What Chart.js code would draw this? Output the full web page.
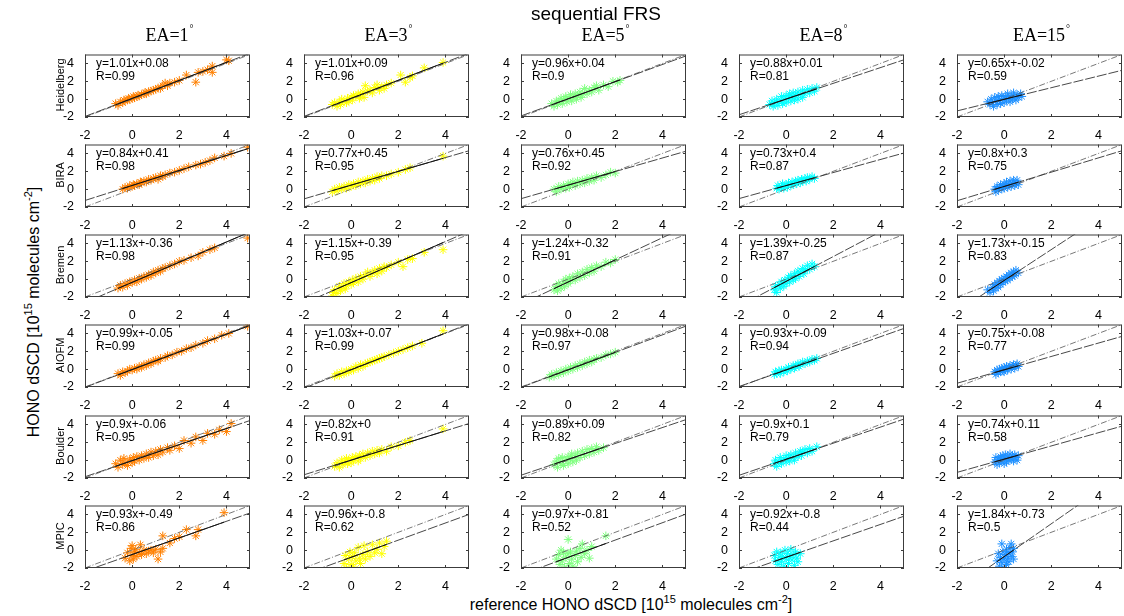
<!DOCTYPE html>
<html lang="en">
<head>
<meta charset="UTF-8">
<title>sequential FRS</title>
<script src="https://cdn.jsdelivr.net/npm/chart.js"></script>
<style>
  body { margin: 0; background: #fff; }
  #fig { position: relative; width: 1124px; height: 616px; overflow: hidden;
         font-family: "Liberation Sans", Arial, sans-serif; color: #000; }
  #fig canvas { position: absolute; }
  .lbl { position: absolute; white-space: nowrap; line-height: 1; }
  .ea { font-family: "Liberation Serif", "Times New Roman", serif; font-size: 18px; transform: translateX(-50%); }
  .ea sup { font-size: 10px; vertical-align: 9px; margin-left: 1px; }
  .big sup { font-size: 11px; vertical-align: 7px; }
  .fit { font-size: 12px; }
  .row { font-size: 11px; transform: translate(-50%, -50%) rotate(-90deg); }
</style>
</head>
<body>
<div id="fig"></div>
<script>
// instruments (rows) and elevation angles (columns)
const instruments = ['Heidelberg', 'BIRA', 'Bremen', 'AIOFM', 'Boulder', 'MPIC'];
const elevAngles = [1, 3, 5, 8, 15];
const axisTicks = [-2, 0, 2, 4];

// regression results per instrument, one entry per elevation angle
const slopes = [
  [1.01, 1.01, 0.96, 0.88, 0.65],
  [0.84, 0.77, 0.76, 0.73, 0.8],
  [1.13, 1.15, 1.24, 1.39, 1.73],
  [0.99, 1.03, 0.98, 0.93, 0.75],
  [0.9, 0.82, 0.89, 0.9, 0.74],
  [0.93, 0.96, 0.97, 0.92, 1.84]
];
const offsets = [
  [0.08, 0.09, 0.04, 0.01, -0.02],
  [0.41, 0.45, 0.45, 0.4, 0.3],
  [-0.36, -0.39, -0.32, -0.25, -0.15],
  [-0.05, -0.07, -0.08, -0.09, -0.08],
  [-0.06, 0, 0.09, 0.1, 0.11],
  [-0.49, -0.8, -0.81, -0.8, -0.73]
];
const rValues = [
  [0.99, 0.96, 0.9, 0.81, 0.59],
  [0.98, 0.95, 0.92, 0.87, 0.75],
  [0.98, 0.95, 0.91, 0.87, 0.83],
  [0.99, 0.99, 0.97, 0.94, 0.77],
  [0.95, 0.91, 0.82, 0.79, 0.58],
  [0.86, 0.62, 0.52, 0.44, 0.5]
];

// [reference, instrument] dSCD pairs, one list per elevation angle
const ptsHeidelberg = [
  [[-0.7,-0.5],[-0.6,-0.7],[-0.5,-0.3],[-0.4,-0.4],[-0.35,-0.1],[-0.3,-0.2],[-0.2,-0.1],[-0.15,0.1],[-0.1,-0.05],[0,0.1],[0.05,0.3],[0.1,0.15],[0.2,0.3],[0.25,0.45],[0.3,0.35],[0.4,0.5],[0.5,0.6],[0.55,0.75],[0.6,0.6],[0.7,0.85],[0.8,0.9],[0.9,1.0],[1.0,1.1],[1.1,1.25],[1.2,1.2],[1.3,1.5],[1.4,1.8],[1.5,1.5],[1.6,1.8],[1.8,1.9],[2.0,2.1],[2.3,2.7],[2.7,1.9],[2.8,3.0],[3.0,3.1],[3.2,3.3],[3.4,3.7],[3.4,3.0],[4.0,4.4],[4.1,4.3]],
  [[-0.8,-0.6],[-0.7,-0.4],[-0.6,-0.8],[-0.5,-0.3],[-0.45,-0.6],[-0.4,0],[-0.3,-0.3],[-0.2,-0.4],[-0.15,0.1],[-0.1,-0.2],[0,0.2],[0.05,-0.1],[0.1,0.4],[0.2,0.3],[0.3,0.6],[0.35,0.1],[0.4,0.5],[0.5,0.8],[0.55,0.2],[0.6,1.5],[0.7,0.9],[0.8,1.0],[0.9,0.7],[1.0,1.3],[1.1,1.6],[1.2,1.0],[1.3,1.4],[1.4,1.2],[1.5,1.6],[1.7,1.8],[2.1,2.7],[2.3,1.9],[2.5,2.4],[2.6,2.6],[3.1,3.5],[3.9,4.1]],
  [[-0.7,-0.5],[-0.6,-0.8],[-0.5,-0.2],[-0.45,-0.6],[-0.4,-0.3],[-0.3,0.1],[-0.25,-0.5],[-0.2,-0.1],[-0.1,0.3],[-0.05,-0.3],[0,0.1],[0.1,0.5],[0.15,-0.2],[0.2,0.2],[0.3,0.6],[0.35,0],[0.4,0.4],[0.5,0.8],[0.55,0.2],[0.6,0.5],[0.7,1.2],[0.8,0.6],[0.9,1.0],[1.0,0.8],[1.1,1.3],[1.2,1.5],[1.3,1.0],[1.5,1.6],[1.7,1.4],[1.9,2.0],[2.1,1.9],[2.2,2.1]],
  [[-0.7,-0.6],[-0.6,-0.2],[-0.55,-0.8],[-0.5,-0.4],[-0.4,0],[-0.35,-0.7],[-0.3,-0.3],[-0.2,0.3],[-0.15,-0.5],[-0.1,0],[0,0.4],[0,-0.4],[0.1,0.1],[0.15,0.6],[0.2,-0.2],[0.25,0.3],[0.3,0.7],[0.35,-0.1],[0.4,0.4],[0.5,0.8],[0.5,0],[0.6,0.5],[0.7,1.0],[0.7,0.2],[0.8,0.6],[0.9,1.1],[1.0,0.7],[1.1,1.2],[1.2,0.9],[1.3,1.3]],
  [[-0.7,-0.3],[-0.6,-0.6],[-0.55,0],[-0.5,-0.4],[-0.45,-0.8],[-0.4,0.2],[-0.35,-0.2],[-0.3,-0.6],[-0.25,0.3],[-0.2,-0.1],[-0.15,-0.5],[-0.1,0.4],[-0.05,0],[0,-0.4],[0.05,0.3],[0.1,-0.1],[0.15,0.6],[0.2,0.1],[0.25,-0.3],[0.3,0.4],[0.35,0],[0.4,0.7],[0.45,0.2],[0.5,-0.1],[0.55,0.5],[0.6,0.2],[0.7,0.6],[0.75,0.3]]
];
const ptsBira = [
  [[-0.4,0],[-0.3,0.2],[-0.2,0.1],[-0.1,0.4],[0,0.3],[0.05,0.5],[0.1,0.4],[0.2,0.6],[0.3,0.5],[0.35,0.8],[0.4,0.7],[0.5,0.9],[0.6,0.8],[0.7,1.1],[0.8,1.0],[0.9,1.2],[1.0,1.3],[1.1,1.1],[1.2,1.5],[1.3,1.4],[1.4,1.6],[1.6,1.8],[1.8,1.9],[2.0,2.1],[2.2,2.3],[2.4,2.5],[2.7,2.7],[2.9,2.8],[3.1,3.0],[3.3,3.2],[3.5,3.5],[3.9,3.7],[4.2,4.0],[4.9,4.7]],
  [[-0.8,-0.3],[-0.7,0],[-0.6,-0.2],[-0.5,0.2],[-0.4,0],[-0.3,0.3],[-0.2,0.1],[-0.1,0.5],[0,0.3],[0.1,0.6],[0.2,0.4],[0.3,0.8],[0.4,0.6],[0.5,0.9],[0.6,0.7],[0.7,1.1],[0.8,0.9],[0.9,1.2],[1.0,1.0],[1.1,1.4],[1.2,1.2],[1.3,1.5],[1.5,1.5],[1.7,1.7],[2.0,1.9],[2.3,2.2],[2.5,2.4],[3.9,3.7]],
  [[-0.6,0],[-0.5,-0.3],[-0.4,0.3],[-0.3,0],[-0.2,0.4],[-0.1,0.1],[0,0.6],[0.05,0.2],[0.1,0.5],[0.2,0.8],[0.3,0.4],[0.4,0.9],[0.5,0.6],[0.6,1.0],[0.7,0.7],[0.8,1.2],[0.9,0.9],[1.0,1.3],[1.1,1.0],[1.2,1.5],[1.4,1.3],[1.6,1.6],[1.8,1.9],[2.0,1.8]],
  [[-0.4,0.1],[-0.35,0.4],[-0.3,0],[-0.2,0.3],[-0.15,0.6],[-0.1,0.1],[0,0.5],[0.05,0.2],[0.1,0.7],[0.2,0.4],[0.25,0.8],[0.3,0.5],[0.4,0.9],[0.45,0.6],[0.5,1.0],[0.6,0.7],[0.65,1.1],[0.7,0.9],[0.8,1.2],[0.85,0.9],[0.9,1.3],[1.0,1.1],[1.1,1.4],[1.2,1.2]],
  [[-0.4,0],[-0.35,-0.3],[-0.3,0.3],[-0.25,-0.1],[-0.2,0.2],[-0.15,0.5],[-0.1,0],[-0.05,0.3],[0,0.6],[0,0.1],[0.05,0.4],[0.1,0.8],[0.15,0.2],[0.2,0.5],[0.25,0.9],[0.3,0.3],[0.35,0.6],[0.4,1.0],[0.45,0.4],[0.5,0.7],[0.55,1.0],[0.6,0.5]]
];
const ptsBremen = [
  [[-0.6,-1.0],[-0.5,-0.7],[-0.4,-0.9],[-0.3,-0.5],[-0.2,-0.7],[-0.1,-0.3],[0,-0.4],[0.1,-0.1],[0.2,-0.3],[0.3,0.1],[0.4,0],[0.5,0.3],[0.6,0.2],[0.7,0.5],[0.8,0.4],[0.9,0.8],[1.0,0.7],[1.1,1.0],[1.2,0.9],[1.3,1.2],[1.4,1.3],[1.6,1.5],[1.8,1.7],[2.0,2.0],[2.2,2.1],[2.5,2.4],[2.8,2.6],[3.0,3.0],[3.3,3.3],[3.5,3.5],[4.9,4.6]],
  [[-0.8,-1.9],[-0.75,-1.5],[-0.7,-1.2],[-0.6,-1.6],[-0.5,-0.8],[-0.45,-1.3],[-0.4,-1.0],[-0.3,-0.5],[-0.25,-1.1],[-0.2,-0.7],[-0.1,-0.3],[0,-0.6],[0.05,-0.1],[0.1,-0.4],[0.2,0.1],[0.3,-0.3],[0.4,0.3],[0.5,0],[0.6,0.5],[0.7,0.8],[0.8,0.3],[0.9,0.7],[1.0,1.0],[1.1,0.6],[1.2,1.2],[1.3,0.9],[1.4,1.4],[1.5,1.3],[1.7,1.6],[2.0,1.9],[2.2,1.4],[2.4,2.2],[2.6,2.3],[3.1,3.0],[3.9,3.3]],
  [[-0.6,-1.2],[-0.5,-0.8],[-0.45,-1.3],[-0.4,-0.5],[-0.3,-1.0],[-0.2,-0.3],[-0.15,-0.8],[-0.1,0],[0,-0.5],[0.05,0.1],[0.1,-0.2],[0.2,0.3],[0.3,-0.1],[0.4,0.6],[0.5,0.2],[0.6,0.8],[0.7,0.4],[0.8,1.1],[0.9,0.7],[1.0,1.3],[1.1,0.9],[1.2,1.5],[1.4,1.4],[1.6,1.9],[1.8,1.8],[2.0,2.2]],
  [[-0.5,-1.2],[-0.45,-0.8],[-0.4,-1.5],[-0.3,-0.6],[-0.25,-1.0],[-0.2,-0.3],[-0.1,-0.8],[-0.05,-0.1],[0,-0.5],[0.1,0.2],[0.15,-0.3],[0.2,0.4],[0.3,-0.1],[0.35,0.6],[0.4,0.1],[0.5,0.9],[0.55,0.3],[0.6,0.7],[0.7,1.2],[0.75,0.6],[0.8,1.0],[0.9,1.5],[1.0,1.1],[1.1,1.7],[1.2,1.4]],
  [[-0.7,-1.2],[-0.6,-1.5],[-0.5,-0.9],[-0.45,-1.3],[-0.4,-0.6],[-0.35,-1.0],[-0.3,-0.4],[-0.25,-0.9],[-0.2,-0.2],[-0.15,-0.6],[-0.1,0],[-0.05,-0.4],[0,0.1],[0.05,-0.2],[0.1,0.3],[0.15,-0.1],[0.2,0.5],[0.25,0.1],[0.3,0.7],[0.35,0.3],[0.4,0.8],[0.45,0.4],[0.5,1.0],[0.6,0.7]]
];
const ptsAiofm = [
  [[-0.6,-0.5],[-0.5,-0.7],[-0.4,-0.3],[-0.3,-0.4],[-0.2,-0.2],[-0.1,0],[0,-0.1],[0.1,0.1],[0.2,0],[0.3,0.3],[0.4,0.2],[0.5,0.5],[0.6,0.4],[0.7,0.7],[0.8,0.6],[0.9,0.9],[1.0,1.0],[1.1,0.9],[1.2,1.2],[1.4,1.3],[1.5,1.5],[1.7,1.6],[1.9,1.9],[2.1,2.0],[2.3,2.3],[2.5,2.4],[2.7,2.7],[3.0,2.9],[3.2,3.2],[3.5,3.4],[3.8,3.8],[4.1,4.0],[4.9,4.8]],
  [[-0.7,-0.8],[-0.6,-0.5],[-0.5,-0.7],[-0.4,-0.3],[-0.3,-0.5],[-0.2,-0.2],[-0.1,-0.3],[0,0],[0.1,-0.1],[0.2,0.3],[0.3,0.1],[0.4,0.5],[0.5,0.3],[0.6,0.6],[0.7,0.7],[0.8,0.8],[0.9,0.9],[1.0,1.0],[1.1,1.1],[1.2,1.2],[1.3,1.3],[1.4,1.4],[1.6,1.6],[1.8,1.8],[2.0,2.0],[2.2,2.2],[2.4,2.4],[2.6,2.6],[3.0,2.9],[3.9,4.3]],
  [[-0.8,-0.9],[-0.7,-0.6],[-0.6,-0.8],[-0.5,-0.4],[-0.4,-0.6],[-0.3,-0.2],[-0.2,-0.4],[-0.1,0],[0,-0.2],[0.1,0.2],[0.2,0],[0.3,0.4],[0.4,0.2],[0.5,0.6],[0.6,0.4],[0.7,0.8],[0.8,0.6],[0.9,1.0],[1.0,0.8],[1.1,1.1],[1.2,1.2],[1.4,1.3],[1.6,1.6],[1.8,1.7],[2.0,1.9]],
  [[-0.5,-0.6],[-0.45,-0.3],[-0.4,-0.5],[-0.3,-0.2],[-0.25,-0.5],[-0.2,-0.1],[-0.1,-0.3],[0,0],[0.05,-0.2],[0.1,0.2],[0.2,0],[0.3,0.4],[0.35,0.1],[0.4,0.3],[0.5,0.6],[0.55,0.3],[0.6,0.5],[0.7,0.8],[0.8,0.6],[0.9,0.9],[1.0,0.8],[1.1,1.1],[1.2,1.0],[1.3,1.2]],
  [[-0.4,-0.3],[-0.35,-0.6],[-0.3,-0.1],[-0.25,-0.4],[-0.2,0],[-0.15,-0.3],[-0.1,0.1],[-0.05,-0.2],[0,0.2],[0,-0.3],[0.05,0],[0.1,0.3],[0.15,-0.1],[0.2,0.2],[0.25,0.4],[0.3,0],[0.35,0.3],[0.4,0.5],[0.45,0.1],[0.5,0.4],[0.55,0.6],[0.6,0.3]]
];
const ptsBoulder = [
  [[-0.7,-0.4],[-0.6,-0.8],[-0.5,0],[-0.4,-0.5],[-0.35,0.2],[-0.3,-0.3],[-0.2,-0.6],[-0.1,0.1],[0,-0.3],[0.05,0.3],[0.1,-0.1],[0.2,0.4],[0.3,0],[0.4,0.5],[0.5,0.2],[0.6,0.7],[0.7,0.3],[0.8,0.9],[0.9,0.5],[1.0,1.0],[1.1,0.6],[1.2,1.2],[1.3,0.9],[1.5,1.4],[1.6,1.1],[1.8,1.6],[2.0,1.3],[2.2,2.2],[2.5,1.9],[2.7,2.6],[3.0,2.2],[3.2,3.0],[3.5,2.9],[3.7,3.4],[4.0,3.2],[4.2,4.1]],
  [[-0.7,-0.7],[-0.6,-0.3],[-0.5,-0.8],[-0.4,0],[-0.35,-0.5],[-0.3,-0.2],[-0.2,0.2],[-0.15,-0.4],[-0.1,0],[0,-0.3],[0.05,0.3],[0.1,0],[0.2,0.4],[0.3,-0.1],[0.35,0.5],[0.4,0.2],[0.5,0.7],[0.6,0.3],[0.7,0.8],[0.8,0.5],[0.9,1.0],[1.0,0.7],[1.1,1.1],[1.2,0.8],[1.3,1.2],[1.5,1.0],[1.7,1.5],[2.0,1.6],[2.3,2.0],[2.5,2.2],[3.9,3.5]],
  [[-0.6,-0.5],[-0.5,-0.1],[-0.45,-0.8],[-0.4,0.2],[-0.3,-0.4],[-0.25,0.3],[-0.2,-0.6],[-0.1,0],[0,0.4],[0,-0.4],[0.1,0.2],[0.15,0.7],[0.2,-0.2],[0.3,0.5],[0.35,0],[0.4,0.8],[0.5,0.3],[0.6,1.0],[0.7,0.5],[0.8,1.2],[0.9,0.7],[1.0,1.3],[1.1,0.9],[1.2,1.5],[1.3,1.1],[1.5,1.4]],
  [[-0.5,-0.4],[-0.45,0],[-0.4,-0.7],[-0.3,-0.2],[-0.25,0.3],[-0.2,-0.4],[-0.1,0.1],[0,-0.2],[0,0.5],[0.1,0.2],[0.15,-0.1],[0.2,0.6],[0.3,0.3],[0.35,0],[0.4,0.8],[0.5,0.4],[0.6,1.0],[0.65,0.5],[0.7,0.9],[0.8,1.2],[0.9,0.8],[1.0,1.3],[1.1,1.0],[1.3,1.5]],
  [[-0.4,-0.2],[-0.35,0.3],[-0.3,-0.5],[-0.25,0.1],[-0.2,-0.3],[-0.15,0.4],[-0.1,-0.1],[-0.05,0.5],[0,-0.4],[0,0.2],[0.05,0.6],[0.1,-0.2],[0.15,0.3],[0.2,0],[0.25,0.7],[0.3,0.1],[0.35,0.4],[0.4,-0.1],[0.45,0.6],[0.5,0.3],[0.55,0],[0.6,0.5]]
];
const ptsMpic = [
  [[-0.3,-0.9],[-0.2,-0.3],[-0.1,-1.2],[-0.05,0.2],[0,-0.6],[0,0.5],[0.05,-1.0],[0.1,-0.2],[0.15,0.1],[0.2,-0.7],[0.3,-0.3],[0.35,0.6],[0.4,-0.5],[0.5,0],[0.6,-0.4],[0.7,-0.1],[0.8,0],[0.9,-0.3],[1.0,0.1],[1.1,-1.0],[1.2,-0.2],[1.3,0.2],[1.3,1.6],[1.6,0.8],[1.8,1.3],[2.0,1.5],[2.3,2.3],[2.7,1.6],[2.8,2.3],[3.9,4.2]],
  [[-0.3,-1.5],[-0.25,-0.6],[-0.2,-2.0],[-0.1,-1.0],[-0.05,-0.2],[0,-1.6],[0.05,-0.7],[0.1,-1.9],[0.15,-0.3],[0.2,-1.2],[0.3,0.3],[0.35,-0.9],[0.4,-1.5],[0.5,-0.5],[0.55,0.5],[0.6,-1.0],[0.7,-0.2],[0.8,-0.7],[0.9,0.6],[1.0,-0.3],[1.1,0.1],[1.2,0.8],[1.3,-0.4],[1.4,0.4],[1.5,1.0]],
  [[-0.5,-1.0],[-0.4,-0.5],[-0.35,-1.6],[-0.3,0],[-0.25,-1.2],[-0.2,-0.3],[-0.15,-1.9],[-0.1,-0.8],[0,-0.4],[0,1.2],[0.05,-1.5],[0.1,-0.2],[0.15,-1.0],[0.2,-1.8],[0.3,-0.6],[0.35,-0.1],[0.4,-1.3],[0.5,0.2],[0.55,-0.8],[0.6,0.7],[0.7,-0.4],[0.8,0],[0.9,-0.9],[1.0,0.4],[1.6,1.6]],
  [[-0.5,-0.6],[-0.45,-1.2],[-0.4,-0.2],[-0.35,-1.6],[-0.3,-0.8],[-0.25,-0.3],[-0.2,-1.3],[-0.15,-0.7],[-0.1,-1.8],[-0.05,0],[0,-1.0],[0.05,-0.4],[0.1,-1.5],[0.15,-0.8],[0.2,0.1],[0.25,-1.1],[0.3,-0.5],[0.35,-1.7],[0.4,-0.2],[0.45,-0.9],[0.5,-1.3],[0.6,-0.4]],
  [[-0.3,-1.2],[-0.25,-0.4],[-0.2,-1.8],[-0.15,-0.8],[-0.1,0.7],[-0.1,-1.4],[-0.05,-0.2],[0,-1.0],[0,-2.0],[0.05,-0.5],[0.1,-1.6],[0.1,0.1],[0.15,-0.9],[0.2,-0.3],[0.2,-1.3],[0.25,0.3],[0.3,-0.7],[0.3,0.7],[0.35,-0.2],[0.4,-1.0],[0.4,0.2]]
];
const allPts = [ptsHeidelberg, ptsBira, ptsBremen, ptsAiofm, ptsBoulder, ptsMpic];

// marker colour per elevation angle
const colColors = ['rgb(255,128,0)', 'rgb(255,255,0)', 'rgb(128,255,128)', 'rgb(0,255,255)', 'rgb(30,144,255)'];

// panel layout (plot box in page pixels)
const boxLeft = [85, 304, 521, 739, 957];
const boxTop = [52, 142, 232, 322, 413, 503];
const boxW = 165, boxH = 65;
const padL = 32, padT = 8, padR = 10, padB = 22;

const fig = document.getElementById('fig');

function addLabel(html, cls, left, top, extra) {
  const d = document.createElement('div');
  d.className = 'lbl ' + cls;
  d.innerHTML = html;
  d.style.left = left + 'px';
  d.style.top = top + 'px';
  if (extra) Object.assign(d.style, extra);
  fig.appendChild(d);
  return d;
}

// box with inward tick marks, like the classic MATLAB axes
const boxPlugin = {
  id: 'box',
  afterDatasetsDraw(chart) {
    const { ctx, chartArea: a, scales: { x, y } } = chart;
    ctx.save();
    ctx.strokeStyle = '#3c3c3c';
    ctx.lineWidth = 1;
    ctx.strokeRect(a.left + 0.5, a.top + 0.5, a.right - a.left - 1, a.bottom - a.top - 1);
    ctx.beginPath();
    axisTicks.forEach(v => {
      const px = Math.round(x.getPixelForValue(v)) + 0.5;
      ctx.moveTo(px, a.bottom); ctx.lineTo(px, a.bottom - 3);
      ctx.moveTo(px, a.top); ctx.lineTo(px, a.top + 3);
      const py = Math.round(y.getPixelForValue(v)) + 0.5;
      ctx.moveTo(a.left, py); ctx.lineTo(a.left + 3, py);
      ctx.moveTo(a.right, py); ctx.lineTo(a.right - 3, py);
    });
    ctx.stroke();
    ctx.restore();
  }
};

function axisOpts(fitSize) {
  return {
    type: 'linear', min: -2, max: 5,
    grid: { display: false },
    border: { display: false },
    ticks: {
      stepSize: 2, includeBounds: false, padding: 3,
      color: '#000',
      font: { family: 'Liberation Sans', size: 12.5 },
      autoSkip: false, maxRotation: 0
    },
    afterFit: fitSize
  };
}

instruments.forEach((name, r) => {
  elevAngles.forEach((ea, c) => {
    const pts = allPts[r][c];
    const s = slopes[r][c], b = offsets[r][c];
    const xs = pts.map(p => p[0]);
    const x0 = Math.min(...xs), x1 = Math.max(...xs);

    const cv = document.createElement('canvas');
    const W = boxW + padL + padR, H = boxH + padT + padB;
    cv.width = W; cv.height = H;
    cv.style.left = (boxLeft[c] - padL) + 'px';
    cv.style.top = (boxTop[r] - padT) + 'px';
    fig.appendChild(cv);

    new Chart(cv, {
      type: 'scatter',
      data: {
        datasets: [
          { // fit over the data range
            data: [{ x: x0, y: s * x0 + b }, { x: x1, y: s * x1 + b }],
            showLine: true, borderColor: '#111', borderWidth: 1, pointRadius: 0, order: 0
          },
          { // fit, full range
            data: [{ x: -2, y: s * -2 + b }, { x: 5, y: s * 5 + b }],
            showLine: true, borderColor: '#333', borderWidth: 0.9, borderDash: [10, 2],
            pointRadius: 0, order: 1
          },
          { // 1:1 line
            data: [{ x: -2, y: -2 }, { x: 5, y: 5 }],
            showLine: true, borderColor: '#555', borderWidth: 0.8, borderDash: [6, 2, 1, 2],
            pointRadius: 0, order: 2
          },
          {
            data: pts.map(p => ({ x: p[0], y: p[1] })),
            pointStyle: 'star', pointRadius: 4.3, borderWidth: 1,
            borderColor: colColors[c], backgroundColor: colColors[c], order: 3
          }
        ]
      },
      options: {
        responsive: false, animation: false, devicePixelRatio: 1,
        layout: { padding: { left: 0, top: padT, right: padR, bottom: 0 } },
        plugins: { legend: { display: false }, tooltip: { enabled: false } },
        scales: {
          x: axisOpts(sc => { sc.height = padB; }),
          y: axisOpts(sc => { sc.width = padL; })
        }
      },
      plugins: [boxPlugin]
    });

    addLabel('y=' + s + 'x+' + b + '<br>R=' + rValues[r][c], 'fit',
      boxLeft[c] + 11, boxTop[r] + 5, { lineHeight: '12.5px' });
  });

  addLabel(name, 'row', 60, boxTop[r] + boxH / 2);
});

elevAngles.forEach((ea, c) => {
  addLabel('EA=' + ea + '<sup>&deg;</sup>', 'ea', boxLeft[c] + boxW / 2 + 2, 24);
});

addLabel('sequential FRS', '', 596, 4, { fontSize: '19px', transform: 'translateX(-50%)' });
addLabel('reference HONO dSCD [10<sup>15</sup> molecules cm<sup>-2</sup>]', 'big', 631, 594,
  { fontSize: '16px', transform: 'translateX(-50%)' });
addLabel('HONO dSCD [10<sup>15</sup> molecules cm<sup>-2</sup>]', 'big', 32, 312,
  { fontSize: '16px', transform: 'translate(-50%, -50%) rotate(-90deg)' });
</script>
</body>
</html>
